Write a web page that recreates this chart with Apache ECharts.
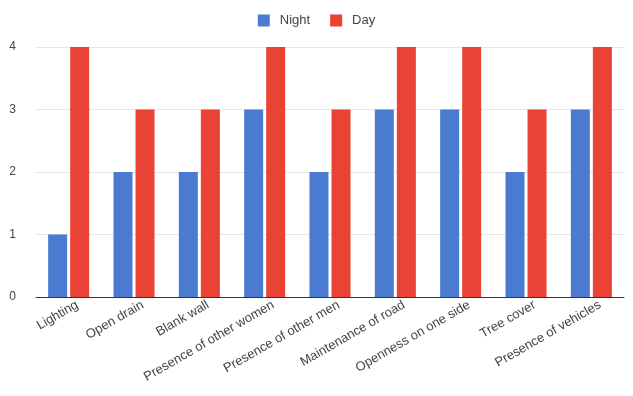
<!DOCTYPE html>
<html><head><meta charset="utf-8">
<script src="https://cdn.jsdelivr.net/npm/echarts@6/dist/echarts.min.js"></script>
<style>html,body{margin:0;padding:0;background:#fff}#c{width:633px;height:396px}</style>
</head><body><div id="c"></div>
<script>
var categories = ["Lighting","Open drain","Blank wall","Presence of other women","Presence of other men","Maintenance of road","Openness on one side","Tree cover","Presence of vehicles"];
var night = [1,2,2,3,2,3,3,2,3];
var day = [4,3,3,4,3,4,4,3,4];
var yTicks = [0,1,2,3,4];

var chart = echarts.init(document.getElementById('c'));
chart.setOption({
  animation:false,
  textStyle:{fontFamily:'Liberation Sans, Arial, sans-serif'},
  legend:{top:9,left:'center',itemWidth:12,itemHeight:12,itemGap:20,icon:'rect',
    textStyle:{fontSize:13,color:'#444',padding:[0,0,0,5]},data:['Night','Day']},
  grid:{left:36,right:9,top:47,bottom:99},
  xAxis:{type:'category',data:categories,
    axisLine:{lineStyle:{color:'#333'}},axisTick:{show:false},
    axisLabel:{rotate:30,fontSize:13,color:'#444',margin:12,interval:0,padding:[0,-10,0,0]}},
  yAxis:{type:'value',min:yTicks[0],max:yTicks[yTicks.length-1],interval:1,
    axisLabel:{fontSize:12,color:'#444',margin:20},
    splitLine:{lineStyle:{color:'#e6e6e6'}},axisLine:{show:false},axisTick:{show:false}},
  series:[
    {name:'Night',type:'bar',data:night,barWidth:19,barGap:'16%',itemStyle:{color:'#4a7bd0'}},
    {name:'Day',type:'bar',data:day,barWidth:19,itemStyle:{color:'#ea4335'}}
  ]
});
</script></body></html>
